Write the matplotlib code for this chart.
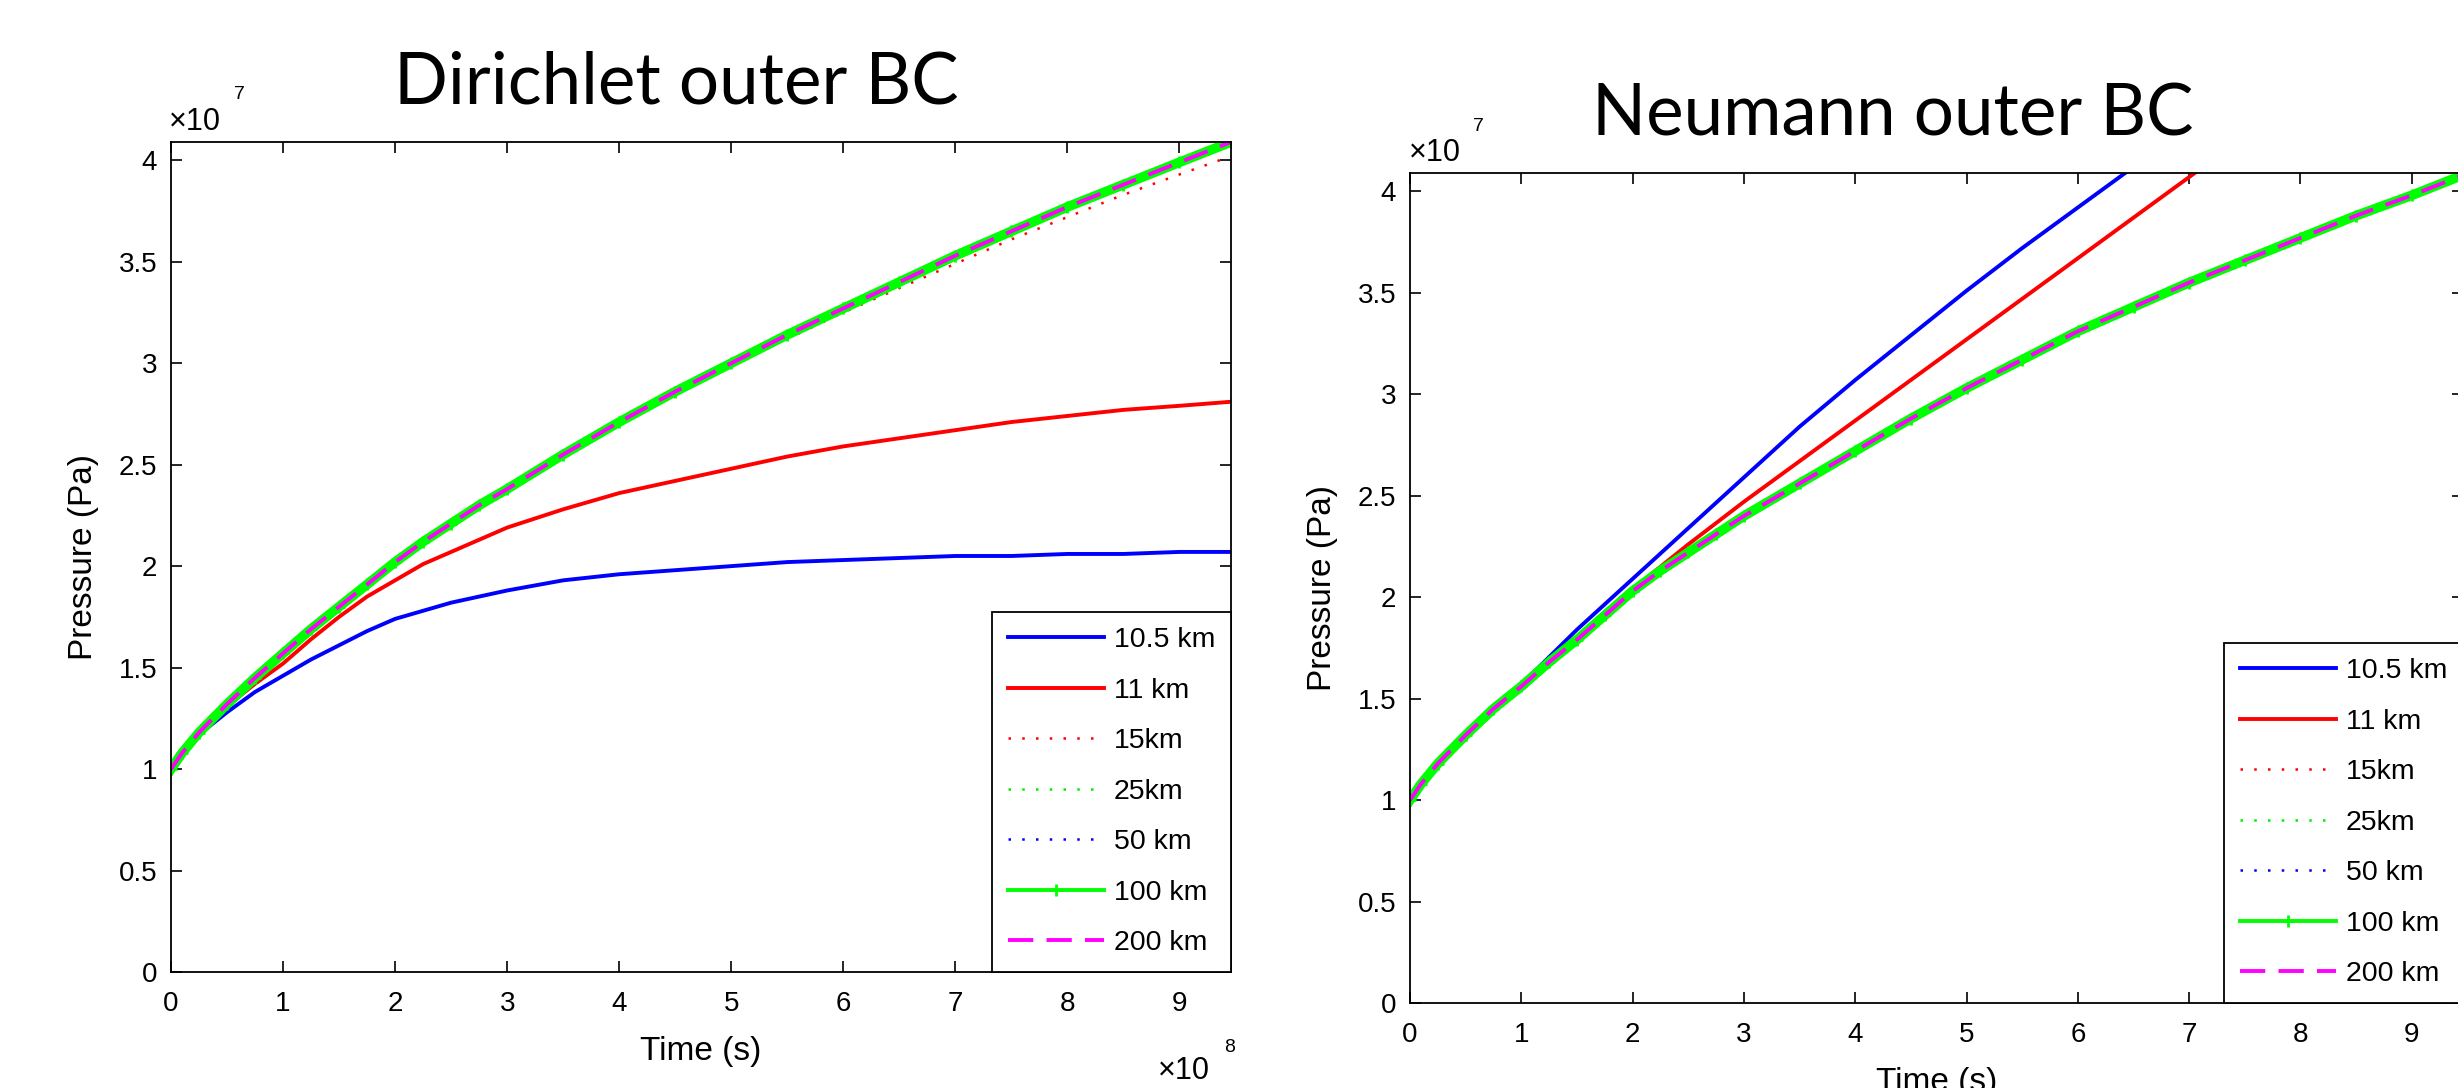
import matplotlib
matplotlib.use('Agg')
import matplotlib.pyplot as plt
from matplotlib.ticker import MultipleLocator, FuncFormatter

plt.rcParams['font.family'] = ['Liberation Sans', 'DejaVu Sans']

# time in units of 1e8 s, pressure in units of 1e7 Pa
t_grid = [0, 0.1, 0.25, 0.5, 0.75, 1, 1.25, 1.5, 1.75, 2, 2.25, 2.5, 2.75, 3,
          3.5, 4, 4.5, 5, 5.5, 6, 6.5, 7, 7.5, 8, 8.5, 9, 9.46]

# Dirichlet outer BC
dir_105 = [1.00, 1.08, 1.17, 1.28, 1.38, 1.46, 1.54, 1.61, 1.68, 1.74, 1.78, 1.82, 1.85, 1.88,
           1.93, 1.96, 1.98, 2.00, 2.02, 2.03, 2.04, 2.05, 2.05, 2.06, 2.06, 2.07, 2.07]
dir_11 = [1.00, 1.08, 1.18, 1.31, 1.42, 1.52, 1.64, 1.75, 1.85, 1.93, 2.01, 2.07, 2.13, 2.19,
          2.28, 2.36, 2.42, 2.48, 2.54, 2.59, 2.63, 2.67, 2.71, 2.74, 2.77, 2.79, 2.81]
dir_15 = [1.00, 1.08, 1.18, 1.32, 1.45, 1.57, 1.69, 1.80, 1.91, 2.02, 2.12, 2.21, 2.30, 2.38,
          2.54, 2.70, 2.85, 2.99, 3.12, 3.25, 3.37, 3.49, 3.61, 3.72, 3.83, 3.93, 4.02]
dir_far = [1.00, 1.08, 1.18, 1.32, 1.45, 1.57, 1.69, 1.80, 1.91, 2.02, 2.12, 2.21, 2.30, 2.38,
           2.55, 2.71, 2.86, 3.00, 3.14, 3.27, 3.40, 3.53, 3.65, 3.77, 3.88, 3.99, 4.09]

# Neumann outer BC
t_neu_105 = [0, 0.1, 0.25, 0.5, 0.75, 1, 1.5, 2, 2.5, 3, 3.5, 4, 4.5, 5, 5.5, 6, 6.5]
neu_105 = [1.00, 1.08, 1.18, 1.32, 1.45, 1.57, 1.84, 2.09, 2.34, 2.59, 2.84, 3.07, 3.29, 3.51, 3.72, 3.92, 4.12]
t_neu_11 = [0, 0.1, 0.25, 0.5, 0.75, 1, 1.5, 2, 2.5, 3, 3.5, 4, 4.5, 5, 5.5, 6, 6.5, 7, 7.5]
neu_11 = [1.00, 1.08, 1.18, 1.32, 1.45, 1.57, 1.80, 2.04, 2.26, 2.47, 2.67, 2.87, 3.07, 3.27, 3.47, 3.67, 3.87, 4.07, 4.27]
neu_far = [1.00, 1.08, 1.18, 1.32, 1.45, 1.56, 1.68, 1.79, 1.91, 2.03, 2.13, 2.22, 2.31, 2.40,
           2.56, 2.72, 2.88, 3.03, 3.17, 3.31, 3.43, 3.55, 3.66, 3.77, 3.88, 3.98, 4.08]

labels = ['10.5 km', '11 km', '15km', '25km', '50 km', '100 km', '200 km']

W, H = 2458, 1088
fig = plt.figure(figsize=(W / 100, H / 100), dpi=100)


def add_axes_px(left, top, width, height):
    return fig.add_axes([left / W, 1 - (top + height) / H, width / W, height / H])


def draw(ax, curves):
    (t105, p105), (t11, p11), (t15, p15), (tf, pf) = curves
    ax.plot(t105, p105, color='#0000ff', lw=2.8, label=labels[0])
    ax.plot(t11, p11, color='#ff0000', lw=2.8, label=labels[1])
    ax.plot(t15, p15, color='#ff0000', lw=1.8, ls=(0, (1, 4.5)), label=labels[2])
    ax.plot(tf, pf, color='#00ee00', lw=1.8, ls=(0, (1, 4.5)), label=labels[3])
    ax.plot(tf, pf, color='#0000ff', lw=1.8, ls=(0, (1, 4.5)), label=labels[4])
    ax.plot(tf, pf, color='#00ff00', lw=7, label='_nolegend_')
    ax.plot(tf, pf, color='#00ff00', lw=2.8, marker='+', ms=9, mew=2, label=labels[5])
    ax.plot(tf, pf, color='#ff00ff', lw=2.8, ls=(0, (6.5, 3.4)), label=labels[6])

    ax.set_xlim(0, 9.46)
    ax.set_ylim(0, 4.09)
    ax.xaxis.set_major_locator(MultipleLocator(1))
    ax.yaxis.set_major_locator(MultipleLocator(0.5))
    ax.yaxis.set_major_formatter(FuncFormatter(lambda v, p: f'{v:g}'))
    ax.tick_params(direction='in', top=True, right=True, length=8, width=1.2,
                   labelsize=20, colors='black')
    ax.tick_params(axis='x', pad=14)
    ax.tick_params(axis='y', pad=10)
    for s in ax.spines.values():
        s.set_linewidth(1.3)
    ax.set_xlabel('Time (s)', fontsize=24)
    ax.xaxis.set_label_coords(0.5, -0.077)
    ax.set_ylabel('Pressure (Pa)', fontsize=24)
    ax.yaxis.set_label_coords(-0.068, 0.5)

    leg = ax.legend(loc='lower right', bbox_to_anchor=(1, 0), borderaxespad=0,
                    fontsize=20.5, handlelength=3.37, handletextpad=0.35,
                    labelspacing=0.86, borderpad=0.55, fancybox=False,
                    edgecolor='black', framealpha=1, numpoints=1)
    leg.get_frame().set_linewidth(1.3)


ax1 = add_axes_px(171, 142, 1060, 830)
draw(ax1, [(t_grid, dir_105), (t_grid, dir_11), (t_grid, dir_15), (t_grid, dir_far)])

ax2 = add_axes_px(1410, 173, 1053, 830)
draw(ax2, [(t_neu_105, neu_105), (t_neu_11, neu_11), (t_grid, neu_far), (t_grid, neu_far)])


def ftext(x, y, s, **kw):
    fig.text(x / W, 1 - y / H, s, **kw)


title_font = ['Lato', 'DejaVu Sans']
ftext(676, 104, 'Dirichlet outer BC', fontsize=51, ha='center', va='baseline', family=title_font)
ftext(1893, 135, 'Neumann outer BC', fontsize=51, ha='center', va='baseline', family=title_font)

# exponent labels
ftext(169, 130, '\u00d710', fontsize=22, va='baseline')
ftext(234, 99, '7', fontsize=14, va='baseline')
ftext(1409, 161, '\u00d710', fontsize=22, va='baseline')
ftext(1473, 131, '7', fontsize=14, va='baseline')
ftext(1158, 1079, '\u00d710', fontsize=22, va='baseline')
ftext(1224, 1052, '8', fontsize=14, va='baseline')
ftext(2450, 1088 + 27, '8', fontsize=14, va='baseline')

fig.savefig('out.png', dpi=100, facecolor='white')
